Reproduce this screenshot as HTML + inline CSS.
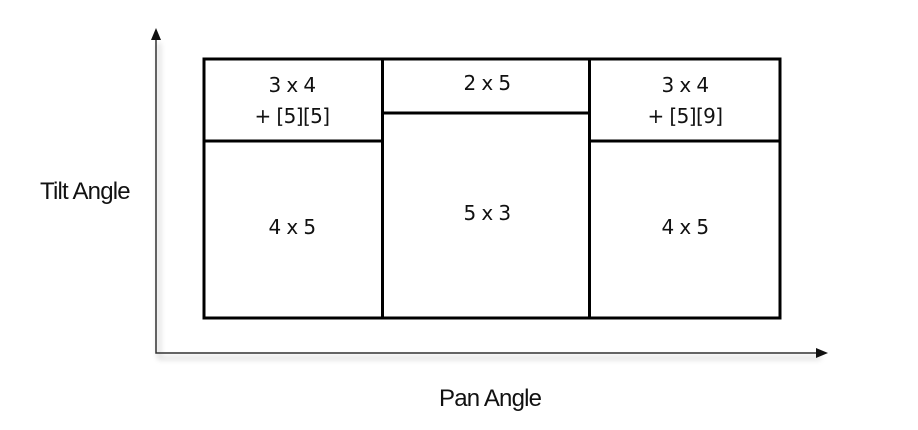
<!DOCTYPE html>
<html><head><style>
html,body{margin:0;padding:0;background:#fff;width:918px;height:430px;overflow:hidden}
</style></head><body>
<svg width="918" height="430" viewBox="0 0 918 430" xmlns="http://www.w3.org/2000/svg">
<defs><filter id="sh" x="-10%" y="-10%" width="120%" height="130%"><feGaussianBlur in="SourceAlpha" stdDeviation="3"/><feOffset dx="3" dy="5"/><feComponentTransfer><feFuncA type="linear" slope="0.35"/></feComponentTransfer><feMerge><feMergeNode/><feMergeNode in="SourceGraphic"/></feMerge></filter></defs>
<g filter="url(#sh)" stroke="#333" stroke-width="1.5" fill="none">
<polyline points="156,38 156,353 818,353"/>
</g>
<polygon points="156,28 151,40 161,40" fill="#111"/>
<polygon points="828,353 816,348 816,358" fill="#111"/>
<g stroke="#000" stroke-width="3" fill="none">
<rect x="204" y="59" width="576" height="259"/>
<line x1="382.5" y1="59" x2="382.5" y2="318"/>
<line x1="589.5" y1="59" x2="589.5" y2="318"/>
<line x1="204" y1="141" x2="382.5" y2="141"/>
<line x1="589.5" y1="141" x2="780" y2="141"/>
<line x1="382.5" y1="113" x2="589.5" y2="113"/>
</g>
<g font-family="'DejaVu Sans', sans-serif" font-size="20" fill="#111" text-anchor="middle" letter-spacing="-0.6">
<text x="292" y="92">3 x 4</text>
<text x="292" y="123">+ [5][5]</text>
<text x="487" y="90">2 x 5</text>
<text x="685" y="92">3 x 4</text>
<text x="685" y="123">+ [5][9]</text>
<text x="292" y="234">4 x 5</text>
<text x="487" y="220">5 x 3</text>
<text x="685" y="234">4 x 5</text>
</g>
<g font-family="'Liberation Sans', sans-serif" font-size="24" fill="#111" letter-spacing="-0.8">
<text x="40" y="199">Tilt Angle</text>
<text x="439" y="406">Pan Angle</text>
</g>
</svg>
</body></html>
